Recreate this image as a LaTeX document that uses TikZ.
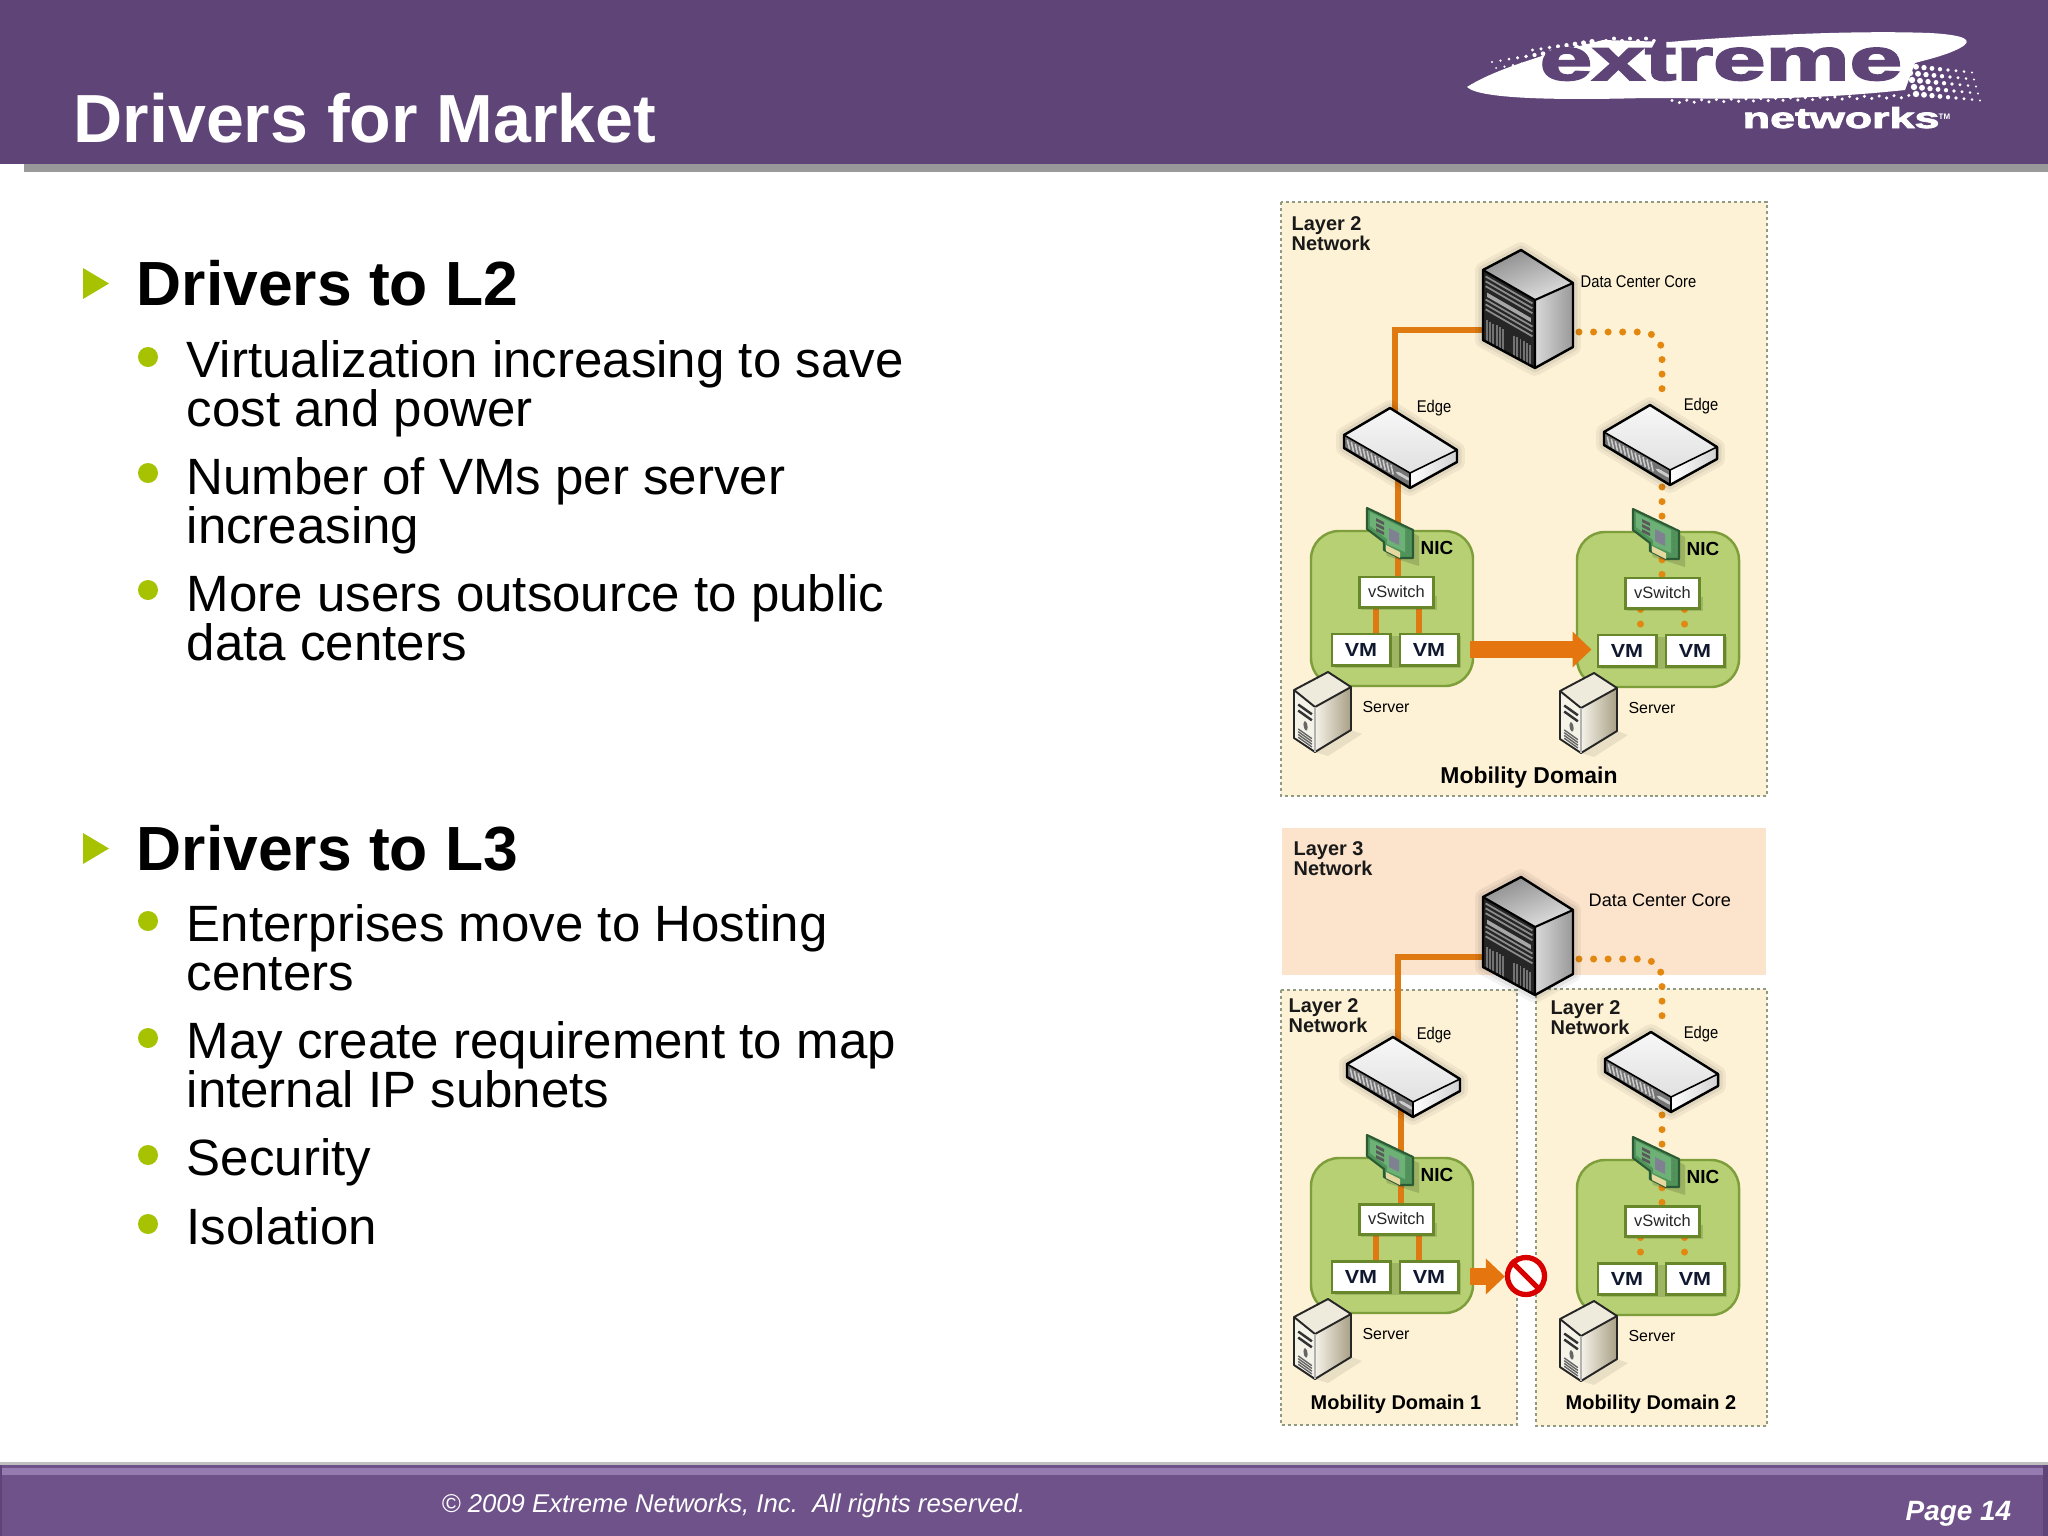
\documentclass[tikz,border=0pt]{standalone}
\usepackage{fontspec}
\setmainfont{Liberation Sans}
\newfontfamily\logofont[UprightFont={* Bold},FakeBold=2.5]{Liberation Sans}
\usetikzlibrary{arrows.meta,calc}
\definecolor{hdr}{HTML}{5E4477}
\definecolor{ftr}{HTML}{6E5289}
\definecolor{ftrl}{HTML}{957BB0}
\definecolor{panelc}{HTML}{FDF2D5}
\definecolor{peach}{HTML}{FBE3CC}
\definecolor{hostc}{HTML}{B6D073}
\definecolor{hostb}{HTML}{7E9E3C}
\definecolor{vmb}{HTML}{67872A}
\definecolor{orangel}{HTML}{DF7A12}
\definecolor{orangea}{HTML}{E5760F}
\definecolor{bulc}{HTML}{A6C200}
\definecolor{dotb}{HTML}{8F9A80}
\definecolor{navy}{HTML}{101830}
\definecolor{srvtop}{HTML}{EFEBDC}
\definecolor{srvfront}{HTML}{F5F2E8}
\definecolor{srvside}{HTML}{A89F85}
\definecolor{nicg}{HTML}{4F9458}
\definecolor{nicl}{HTML}{6DB176}
\definecolor{nicd}{HTML}{2C5A34}
\definecolor{gold}{HTML}{E6D9A0}
\newcommand\pxfont[1]{\pgfmathsetmacro\fsz{#1*0.28346}\fontsize{\fsz pt}{\fsz pt}\selectfont}
\newcommand\nar[1]{\scalebox{.87}[1]{#1}}
\pgfdeclarelayer{page}
\pgfdeclarelayer{back}
\pgfdeclarelayer{links}
\pgfsetlayers{page,back,links,main}
\tikzset{
  x=.01cm,y=-.01cm,
  lbl/.style={inner sep=0,anchor=base west,text=black},
  clbl/.style={inner sep=0,anchor=base,text=black},
  panel/.style={fill=panelc,draw=dotb,line width=.75pt,dash pattern=on .85pt off .85pt},
  link/.style={draw=orangel,line width=1.95pt},
  dotlink/.style={draw=orangel!90!yellow,line width=2pt,line cap=round,dash pattern=on 0pt off 4.14pt,rounded corners=.2cm},
  bigarrow/.style={draw=orangea,line width=5.1pt,-{Triangle[width=9.9pt,length=5.4pt]}},
  hostbox/.style={fill=hostc,draw=hostb,line width=.7pt,rounded corners=.28cm},
  vmbox/.style={draw=vmb,fill=white,line width=.85pt,inner sep=0,minimum width=.58cm,minimum height=.31cm,text=navy,font=\pxfont{20}\bfseries},
  vsbox/.style={draw=vmb,fill=white,line width=.85pt,inner sep=0,minimum width=.74cm,minimum height=.3cm,text=black!85,font=\pxfont{16.5}},
  outl/.style={draw=black,line width=.55pt,line join=round},
}
% soft glow behind a closed outline
\newcommand\glow[1]{%
  \draw[black,opacity=.05,line width=4.5pt,line join=round] #1;
  \draw[black,opacity=.06,line width=2.6pt,line join=round] #1;
}
% modular core switch: #1 name, (#2,#3) top vertex
\newcommand\coresw[3]{%
\begin{scope}[shift={(#2,#3)}]
  \coordinate (#1w) at (-38,80);
  \coordinate (#1e) at (58,82);
  \glow{(0,0)--(52,33)--(52,97)--(14,118)--(-38,90)--(-38,20)--cycle}
  \shade[top color=black!45,bottom color=black!12,shading angle=20] (0,0)--(52,33)--(14,50)--(-38,20)--cycle;
  \shade[left color=white!85!black,right color=black!40] (14,50)--(52,33)--(52,97)--(14,118)--cycle;
  \fill[black!85] (-38,20)--(14,50)--(14,118)--(-38,90)--cycle;
  \begin{scope}[shift={(-38,20)},x={(.52cm,-.30cm)},y={(0,-.70cm)}]
    \foreach \v in {.07,.14,.21,.40,.47,.54}
      \draw[black!45,line width=.5pt] (.05,\v)--(.95,\v);
    \fill[black!35] (.08,.29) -- (.92,.29) -- (.92,.35) -- (.08,.35) -- cycle;
    \foreach \u in {.08,.14,...,.40}
      \draw[black!55,line width=.55pt] (\u,.68)--(\u,.98);
    \foreach \u in {.60,.66,...,.92}
      \draw[black!55,line width=.55pt] (\u,.68)--(\u,.98);
  \end{scope}
  \draw[outl,line width=.7pt] (0,0)--(52,33)--(52,97)--(14,118)--(-38,90)--(-38,20)--cycle;
  \draw[outl,line width=.6pt] (-38,20)--(14,50)--(52,33) (14,50)--(14,118);
\end{scope}}
% edge switch: #1 name, (#2,#3) top vertex
\newcommand\edgesw[3]{%
\begin{scope}[shift={(#2,#3)}]
  \coordinate (#1t) at (5,4);
  \coordinate (#1b) at (8,72);
  \glow{(0,0)--(67,42)--(67,54)--(20,80)--(-46,40)--(-46,27)--cycle}
  \shade[top color=black!3,bottom color=black!12] (0,0)--(67,42)--(20,65)--(-46,27)--cycle;
  \shade[left color=white,right color=black!18] (20,65)--(67,42)--(67,54)--(20,80)--cycle;
  \fill[black!55] (-46,27)--(20,65)--(20,80)--(-46,40)--cycle;
  \begin{scope}[shift={(-46,27)},x={(.66cm,-.38cm)},y={(0,-.14cm)}]
    \foreach \u in {.05,.11,...,.75}
      \draw[black!20,line width=.45pt] (\u,.2)--(\u+.035,.8);
    \draw[black!20,line width=.5pt] (.86,.5) circle (.05);
    \draw[black!20,line width=.5pt] (.94,.5) circle (.05);
  \end{scope}
  \draw[outl,line width=.7pt] (0,0)--(67,42)--(67,54)--(20,80)--(-46,40)--(-46,27)--cycle;
  \draw[outl,line width=.45pt] (-46,27)--(20,65)--(67,42) (20,65)--(20,80);
\end{scope}}
% green box, vSwitch and two VMs: #1 name, (#2,#3) corner
\newcommand\hostbase[3]{%
\begin{scope}[shift={(#2,#3)}]
  \begin{pgfonlayer}{back}
    \draw[hostbox] (0,0) rectangle (162,155);
  \end{pgfonlayer}
  \fill[black,opacity=.13] (50,65) rectangle (126,79);
  \fill[black,opacity=.13] (24,105) rectangle (150,137);
  \node[vsbox] (vs#1) at (85.5,61) {vSwitch};
  \node[vmbox] (vm#1a) at (50,118.5) {\scalebox{1.08}[.95]{VM}};
  \node[vmbox] (vm#1b) at (118,118.5) {\scalebox{1.08}[.95]{VM}};
\end{scope}}
% NIC, server and their labels: #1 name, (#2,#3) corner
\newcommand\hosttop[3]{%
\begin{scope}[shift={(#2,#3)}]
  \begin{scope}[shift={(56,-23)}]
    \fill[black,opacity=.14] (6,6)--(52,28)--(52,58)--(20,48)--cycle;
    \fill[nicg,draw=nicd,line width=.6pt,line join=round]
      (0,0)--(46,22)--(46,50)--(33,50)--(17,42)--(17,34)--(0,21)--cycle;
    \fill[nicl] (3,4)--(38,21)--(38,44)--(20,36)--(20,31)--(3,18)--cycle;
    \fill[black!65] (9,10)--(17,14)--(17,17)--(9,13)--cycle (9,15)--(17,19)--(17,22)--(9,18)--cycle (9,20)--(17,24)--(17,27)--(9,23)--cycle;
    \fill[blue!15!black!50] (22,20)--(32,25)--(32,37)--(22,32)--cycle;
    \fill[gold] (19,37)--(33,44)--(33,50)--(19,43)--cycle;
    \foreach \t in {0,...,5}
      \fill[black!55] (41,{24+\t*4}) circle (.8);
  \end{scope}
  \node[inner sep=0,text=black,font=\pxfont{19}\bfseries] (nic#1) at (126,17) {NIC};
  \begin{scope}[shift={(17,141)}]
    \fill[black,opacity=.08] (-13,80)--(23,58)--(34,62)--(0,84)--cycle;
    \fill[srvtop] (0,0)--(23,15)--(-13,35)--(-34,18)--cycle;
    \shade[left color=srvfront,right color=srvside] (-13,35)--(23,15)--(23,58)--(-13,80)--cycle;
    \fill[srvfront] (-34,18)--(-13,35)--(-13,80)--(-34,66)--cycle;
    \begin{scope}[shift={(-34,18)},x={(.21cm,-.15cm)},y={(0,-.46cm)}]
      \draw[black!80,line width=.7pt] (.2,.25)--(.85,.25) (.2,.38)--(.85,.38);
      \fill[black!60] (.55,.6) circle (.1);
      \foreach \v in {.78,.84,.90,.96} \draw[black!60,line width=.4pt] (.2,\v)--(.85,\v);
    \end{scope}
    \draw[black!85,line width=.55pt,line join=round] (0,0)--(23,15)--(23,58)--(-13,80)--(-34,66)--(-34,18)--cycle (-34,18)--(-13,35)--(23,15);
    \draw[black!30,line width=.4pt] (-13,35)--(-13,80);
  \end{scope}
  \node[inner sep=0,text=black,font=\pxfont{16}] (srv#1) at (75,176) {Server};
\end{scope}}
\begin{document}
\begin{tikzpicture}
\useasboundingbox (0,0) rectangle (2048,1536);
\begin{pgfonlayer}{page}
\fill[white] (0,0) rectangle (2048,1536);
\end{pgfonlayer}
% header
\fill[hdr] (0,0) rectangle (2048,164);
\fill[black!40] (24,164) rectangle (2048,172);
\node[lbl,text=white,font=\pxfont{68.3}\bfseries] (title) at (73,142) {Drivers for Market};
% logo
\fill[white] (1467,87) .. controls (1490,72) and (1530,60) .. (1545,55) -- (1603,40) -- (1669,42) .. controls (1740,36) and (1850,30) .. (1930,33) .. controls (1965,35) and (1975,40) .. (1960,48) .. controls (1945,56) and (1925,60) .. (1915,63) -- (1905,90) .. controls (1830,98) and (1760,100) .. (1673,98) -- (1645,98) .. controls (1570,100) and (1480,100) .. (1467,87) -- cycle;
\foreach \i in {0,...,12}{
  \pgfmathsetmacro\r{1.1+\i*.2}
  \fill[white] ({1492+\i*8.5},{62-\i*1.4}) circle (\r);
  \fill[white] ({1496+\i*8.5},{68-\i*1.4}) circle (\r*.9);
  \ifnum\i>4 \fill[white] ({1490+\i*8.5},{56-\i*1.2}) circle (\r*.75);\fi
}
\foreach \i in {0,...,8}{
  \pgfmathsetmacro\r{3.2-\i*.26}
  \foreach \j in {0,...,4}{
    \fill[white] ({1908+\i*8+\j*2},{66+\j*7+\i*.8}) circle (\r);
  }
}
\foreach \i in {0,...,32}{
  \fill[white] ({1672+\i*7.4},{100.5-\i*.16+mod(\i,2)*2.2}) circle (1.7);
}
\foreach \i in {0,...,6}{
  \fill[white] ({1606+\i*8},{41-mod(\i,2)*2.5}) circle (2);
}
\node[lbl,text=hdr,font=\pxfont{60}\logofont] (logoa) at (1539,80) {\scalebox{1.58}[1]{extreme}};
\node[lbl,text=white,font=\pxfont{29}\logofont] (logob) at (1742,128) {\scalebox{1.55}[1]{networks}};
\node[lbl,text=white,font=\pxfont{8}\bfseries] (logoc) at (1938,119) {TM};
% footer
\fill[black!25] (0,1462) rectangle (2048,1465);
\fill[ftr] (0,1465) rectangle (2048,1536);
\fill[ftrl] (2,1468) rectangle (2043,1475);
\fill[hdr] (2043,1465) rectangle (2048,1536);
\fill[hdr] (0,1465) rectangle (2,1536);
\node[lbl,text=white,font=\pxfont{25.8}\itshape] (copy) at (441,1512) {© 2009 Extreme Networks, Inc.\ \ All rights reserved.};
\node[lbl,text=white,font=\pxfont{28}\bfseries\itshape] (page) at (1905,1520) {Page 14};
% bullets
\fill[bulc] (83,268)--(109,283.5)--(83,299)--cycle;
\fill[bulc] (83,833)--(109,848.5)--(83,864)--cycle;
\foreach \y in {357,473,590,921,1038,1155,1224}
  \fill[bulc] (148,\y) circle (10);
\tikzset{hd/.style={lbl,font=\pxfont{62.6}\bfseries},bt/.style={lbl,font=\pxfont{51.2}}}
\node[hd] (h1) at (136,305) {Drivers to L2};
\node[bt] (t1) at (186,377) {Virtualization increasing to save};
\node[bt] (t1b) at (186,426) {cost and power};
\node[bt] (t2) at (186,494) {Number of VMs per server};
\node[bt] (t2b) at (186,543) {increasing};
\node[bt] (t3) at (186,611) {More users outsource to public};
\node[bt] (t3b) at (186,660) {data centers};
\node[hd] (h2) at (136,870) {Drivers to L3};
\node[bt] (u1) at (186,941) {Enterprises move to Hosting};
\node[bt] (u1b) at (186,990) {centers};
\node[bt] (u2) at (186,1058) {May create requirement to map};
\node[bt] (u2b) at (186,1107) {internal IP subnets};
\node[bt] (u3) at (186,1175) {Security};
\node[bt] (u4) at (186,1244) {Isolation};
% panels
\begin{pgfonlayer}{back}
  \draw[panel] (1281,202) rectangle (1767,796);
  \fill[peach] (1282,828) rectangle (1766,975);
  \draw[panel] (1281,990) rectangle (1517,1425);
  \draw[panel] (1536,989) rectangle (1767,1426);
\end{pgfonlayer}
% upper diagram
\hostbase{A}{1311}{531}
\hostbase{B}{1577}{532}
\coresw{coreU}{1521}{250}
\edgesw{edgeA}{1390}{408}
\edgesw{edgeB}{1650}{405}
% lower diagram
\hostbase{C}{1311}{1158}
\hostbase{D}{1577}{1160}
\edgesw{edgeC}{1393}{1037}
\edgesw{edgeD}{1651}{1032}
\coresw{coreL}{1521}{877}
% connectors
\begin{pgfonlayer}{links}
  \draw[link] (coreUw) -| (edgeAt);
  \draw[link] (edgeAb) -- (edgeAb |- vsA.north);
  \draw[link] ([xshift=-.205cm]vsA.south) -- ([xshift=-.205cm]vsA.south |- vmAa.north);
  \draw[link] ([xshift=.225cm]vsA.south) -- ([xshift=.225cm]vsA.south |- vmAb.north);
  \draw[dotlink] (coreUe) -| (1662,402) coordinate (dU);
  \draw[dotlink] (1662,487) -- (1662,578);
  \draw[dotlink] ([xshift=-.22cm]vsB.south) -- ([xshift=-.22cm]vsB.south |- vmBa.north);
  \draw[dotlink] ([xshift=.22cm]vsB.south) -- ([xshift=.22cm]vsB.south |- vmBb.north);
  \draw[link] (coreLw) -| (edgeCt);
  \draw[link] (edgeCb) -- (edgeCb |- vsC.north);
  \draw[link] ([xshift=-.205cm]vsC.south) -- ([xshift=-.205cm]vsC.south |- vmCa.north);
  \draw[link] ([xshift=.225cm]vsC.south) -- ([xshift=.225cm]vsC.south |- vmCb.north);
  \draw[dotlink] (coreLe) -| (1662,1028);
  \draw[dotlink] (1662,1115) -- (1662,1204);
  \draw[dotlink] ([xshift=-.22cm]vsD.south) -- ([xshift=-.22cm]vsD.south |- vmDa.north);
  \draw[dotlink] ([xshift=.22cm]vsD.south) -- ([xshift=.22cm]vsD.south |- vmDb.north);
\end{pgfonlayer}
\hosttop{A}{1311}{531}
\hosttop{B}{1577}{532}
\hosttop{C}{1311}{1158}
\hosttop{D}{1577}{1160}
% migration arrows
\draw[bigarrow,shorten <=.1cm,shorten >=.05cm] (vmAb.east) -- (vmAb.east -| vmBa.west);
\node[circle,draw=red!85!black,fill=white,line width=1.5pt,inner sep=0,minimum size=.37cm] (nosign) at (1526,1276) {};
\draw[red!85!black,line width=1.5pt] (nosign.135) -- (nosign.-45);
\draw[bigarrow,shorten <=.1cm,shorten >=.0cm] (vmCb.east) -- (vmCb.east -| nosign.west);
% labels
\tikzset{lay/.style={lbl,font=\pxfont{20}\bfseries,align=left,text=black!90}}
\node[lay] (la) at (1291,230) {Layer 2};
\node[lay] (lb) at (1291,250) {Network};
\node[lbl,font=\pxfont{17}] (dcu) at (1580,287) {\nar{Data Center Core}};
\node[clbl,font=\pxfont{17}] (ea) at (1434,412) {\nar{Edge}};
\node[clbl,font=\pxfont{17}] (eb) at (1701,410) {\nar{Edge}};
\node[clbl,font=\pxfont{23}\bfseries] (md) at (1529,783) {Mobility Domain};
\node[lay] (lc) at (1293,855) {Layer 3};
\node[lay] (ld) at (1293,875) {Network};
\node[lbl,font=\pxfont{18.2}] (dcl) at (1588,906) {Data Center Core};
\node[lay] (le) at (1288,1012) {Layer 2};
\node[lay] (lf) at (1288,1032) {Network};
\node[lay] (lg) at (1550,1014) {Layer 2};
\node[lay] (lh) at (1550,1034) {Network};
\node[clbl,font=\pxfont{17}] (ec) at (1434,1039) {\nar{Edge}};
\node[clbl,font=\pxfont{17}] (ed) at (1701,1038) {\nar{Edge}};
\node[clbl,font=\pxfont{20}\bfseries] (mda) at (1396,1409) {Mobility Domain 1};
\node[clbl,font=\pxfont{20}\bfseries] (mdb) at (1651,1409) {Mobility Domain 2};
\end{tikzpicture}
\end{document}
